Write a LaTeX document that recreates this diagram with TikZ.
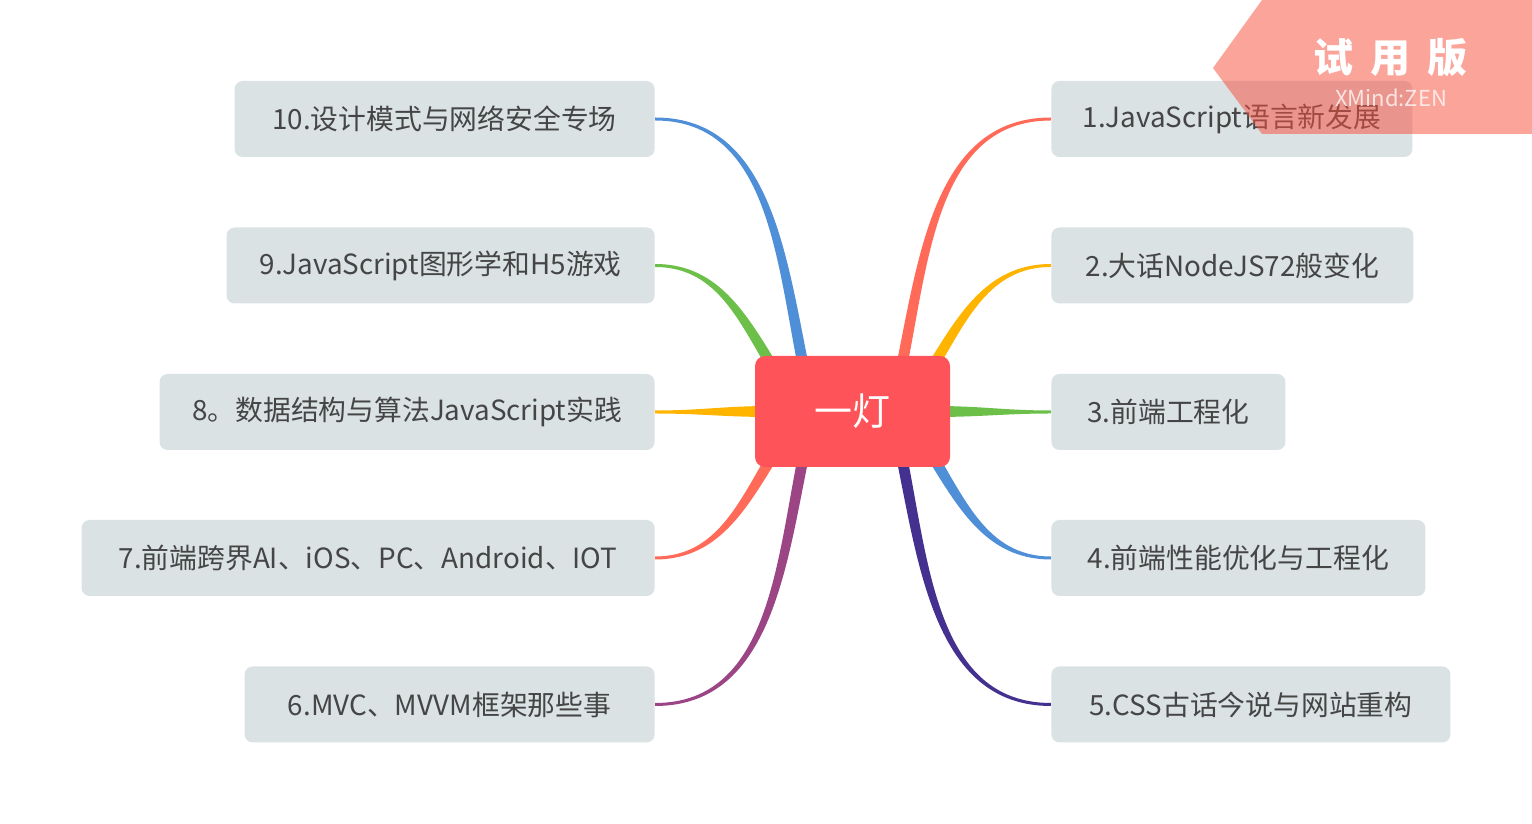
\documentclass[tikz,border=0pt]{standalone}
\usepackage{fontspec}
\setmainfont{Noto Sans CJK SC}
\usetikzlibrary{calc,backgrounds}
\definecolor{topicgray}{HTML}{DAE2E4}
\definecolor{textgray}{HTML}{454545}
\definecolor{mainred}{HTML}{FF535A}
\definecolor{lblue}{HTML}{4F8FD8}
\definecolor{lgreen}{HTML}{6CC04A}
\definecolor{lyellow}{HTML}{FFB400}
\definecolor{lsalmon}{HTML}{FF6B58}
\definecolor{lpurple}{HTML}{9C4585}
\definecolor{lindigo}{HTML}{44318F}
\definecolor{wmred}{HTML}{F8503E}

\begin{document}
\begin{tikzpicture}
    [x=0.5pt,y=0.5pt,
    central/.style={rectangle,fill=mainred,rounded corners=5pt,text=white,
    minimum width=97.5pt,minimum height=55.5pt,font=\fontsize{19pt}{22pt}\selectfont},
    topic/.style={rectangle,fill=topicgray,rounded corners=4pt,text=textgray,
    minimum height=38pt,font=\fontsize{13.9pt}{16pt}\selectfont}]
    \useasboundingbox (0,0) rectangle (1532,824);
    \node (main) [central] at (852.5,412.5) {一灯};
    % right side
    \node (topic 1) [topic,minimum width=180.5pt,anchor=west] at (1051,705) {1.JavaScript语言新发展};
    \node (topic 2) [topic,minimum width=181pt,anchor=west] at (1051,558.5) {2.大话NodeJS72般变化};
    \node (topic 3) [topic,minimum width=117pt,anchor=west] at (1051,412) {3.前端工程化};
    \node (topic 4) [topic,minimum width=187pt,anchor=west] at (1051,266) {4.前端性能优化与工程化};
    \node (topic 5) [topic,minimum width=199.5pt,anchor=west] at (1051,119.5) {5.CSS古话今说与网站重构};
    % left side
    \node (topic 6) [topic,minimum width=205pt,anchor=east] at (655,119.5) {6.MVC、MVVM框架那些事};
    \node (topic 7) [topic,minimum width=286.5pt,anchor=east] at (655,266) {7.前端跨界AI、iOS、PC、Android、IOT};
    \node (topic 8) [topic,minimum width=247.5pt,anchor=east] at (655,412) {8。数据结构与算法JavaScript实践};
    \node (topic 9) [topic,minimum width=214pt,anchor=east] at (655,558.5) {9.JavaScript图形学和H5游戏};
    \node (topic 10) [topic,minimum width=210pt,anchor=east] at (655,705) {10.设计模式与网络安全专场};
    % branch roots inside the central topic
    \coordinate (start 1) at ($(main)+(46.5,32.5)$);
    \coordinate (start 2) at ($(main)+(72.5,32.5)$);
    \coordinate (start 3) at ($(main)+(82.5,0)$);
    \coordinate (start 4) at ($(main)+(72.5,-32.5)$);
    \coordinate (start 5) at ($(main)+(46.5,-32.5)$);
    \coordinate (start 6) at ($(main)+(-46.5,-32.5)$);
    \coordinate (start 7) at ($(main)+(-72.5,-32.5)$);
    \coordinate (start 8) at ($(main)+(-82.5,0)$);
    \coordinate (start 9) at ($(main)+(-72.5,32.5)$);
    \coordinate (start 10) at ($(main)+(-46.5,32.5)$);
    \begin{scope}[on background layer]
    \foreach \n/\side/\c/\a/\b in {1/west/lsalmon/78/180,2/west/lyellow/58/180,
      3/west/lgreen/0/180,4/west/lblue/-58/180,5/west/lindigo/-78/180,
      6/east/lpurple/258/0,7/east/lsalmon/238/0,8/east/lyellow/180/0,
      9/east/lgreen/122/0,10/east/lblue/102/0}
      \fill[\c] ($(start \n)+({\a+90}:5.5)$) to[out=\a,in=\b]
        ($(topic \n.\side)+({\b+270}:1.5)$) -- ($(topic \n.\side)+({\b+90}:1.5)$)
        to[out=\b,in=\a] ($(start \n)+({\a-90}:5.5)$) -- cycle;
    \end{scope}
    % trial watermark
    \fill[wmred,fill opacity=0.52] (1262,824) -- (1532,824) -- (1532,690)
      -- (1262,690) -- (1213,756) -- cycle;
    \node (trial) [text=white,font=\fontsize{20pt}{24pt}\selectfont\bfseries]
      at (1390,766) {试\hspace{8.5pt}用\hspace{8.5pt}版};
    \node (brand) [text=white,text opacity=0.75,font=\fontsize{11pt}{13pt}\selectfont]
      at (1391,726) {XMind:ZEN};
\end{tikzpicture}
\end{document}
